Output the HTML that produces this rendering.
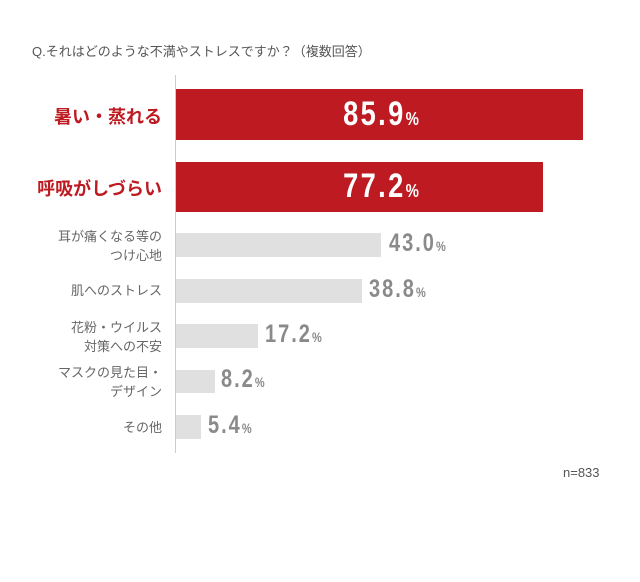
<!DOCTYPE html>
<html><head><meta charset="utf-8"><style>
body{margin:0;background:#fff;width:640px;height:582px;position:relative;overflow:hidden;font-family:"Liberation Sans","Noto Sans CJK JP",sans-serif}
.a{position:absolute}
.t{left:32px;top:41px;font-size:13px;color:#555}
.ax{left:175px;top:75px;width:1px;height:378px;background:#ccc}
.r{background:#bd1b21}
.g{background:#e0e0e0}
.lr{color:#bd1b21;font-size:18px;font-weight:bold;right:478px;text-align:right;white-space:nowrap}
.lg{color:#666;font-size:13px;right:478px;text-align:right;line-height:19px;white-space:nowrap}
.v{font-family:"Liberation Sans",sans-serif;font-weight:bold;white-space:nowrap}
.vw{color:#fff;font-size:34px;letter-spacing:3px;transform:scaleX(.8);transform-origin:center}
.vg{color:#8a8a8a;font-size:25px;letter-spacing:2.5px;transform:scaleX(.8);transform-origin:left}
.p{font-size:.55em;letter-spacing:0}
</style></head><body>
<div class="a t">Q.それはどのような不満やストレスですか？（複数回答）</div>
<div class="a ax"></div>
<div class="a r" style="left:176px;top:89px;width:407px;height:51px"></div>
<div class="a r" style="left:176px;top:162px;width:367px;height:50px"></div>
<div class="a g" style="left:176px;top:233px;width:205px;height:24px"></div>
<div class="a g" style="left:176px;top:279px;width:186px;height:24px"></div>
<div class="a g" style="left:176px;top:324px;width:82px;height:24px"></div>
<div class="a g" style="left:176px;top:370px;width:39px;height:23px"></div>
<div class="a g" style="left:176px;top:415px;width:25px;height:24px"></div>
<div class="a lr" style="top:103px">暑い・蒸れる</div>
<div class="a lr" style="top:175px">呼吸がしづらい</div>
<div class="a lg" style="top:227px">耳が痛くなる等の<br>つけ心地</div>
<div class="a lg" style="top:281px">肌へのストレス</div>
<div class="a lg" style="top:318px">花粉・ウイルス<br>対策への不安</div>
<div class="a lg" style="top:363px">マスクの見た目・<br>デザイン</div>
<div class="a lg" style="top:418px">その他</div>
<div class="a v vw" style="left:281px;width:200px;text-align:center;top:95px">85.9<span class="p">%</span></div>
<div class="a v vw" style="left:281px;width:200px;text-align:center;top:167px">77.2<span class="p">%</span></div>
<div class="a v vg" style="left:389px;top:229px">43.0<span class="p">%</span></div>
<div class="a v vg" style="left:369px;top:275px">38.8<span class="p">%</span></div>
<div class="a v vg" style="left:265px;top:320px">17.2<span class="p">%</span></div>
<div class="a v vg" style="left:221px;top:365px">8.2<span class="p">%</span></div>
<div class="a v vg" style="left:208px;top:411px">5.4<span class="p">%</span></div>
<div class="a" style="left:563px;top:465px;font-size:13px;color:#555">n=833</div>
</body></html>
